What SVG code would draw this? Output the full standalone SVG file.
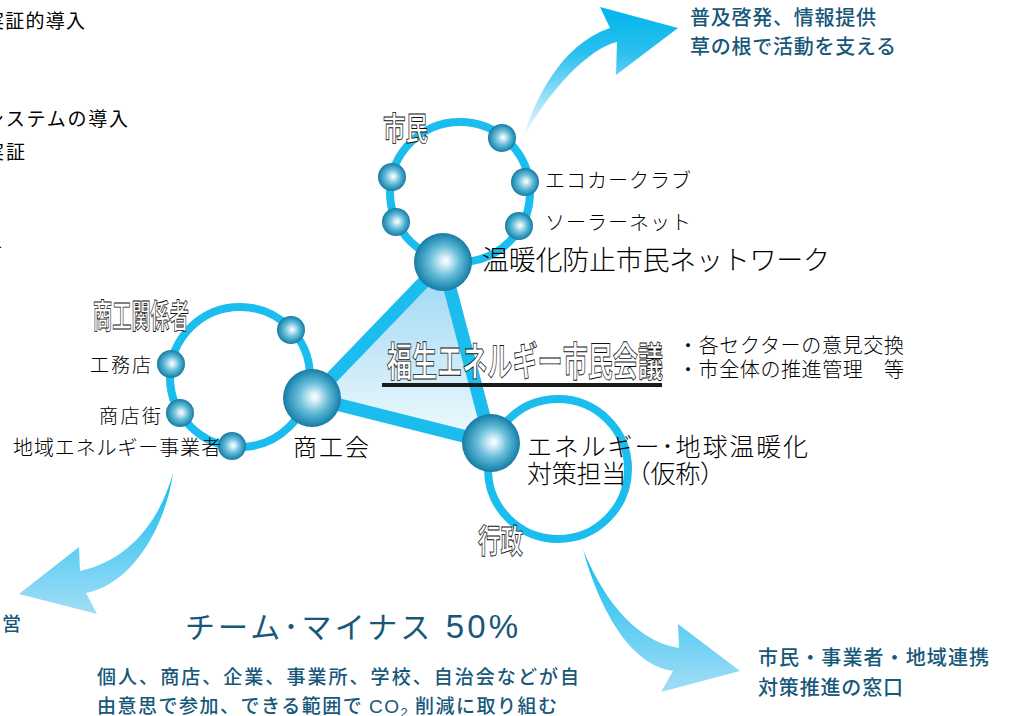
<svg xmlns="http://www.w3.org/2000/svg" width="1011" height="716" viewBox="0 0 1011 716">
<defs>
<radialGradient id="ball" cx="0.5" cy="0.5" r="0.5" fx="0.55" fy="0.48">
<stop offset="0" stop-color="#ffffff"/>
<stop offset="0.12" stop-color="#e2f3f9"/>
<stop offset="0.5" stop-color="#6cbfdb"/>
<stop offset="0.85" stop-color="#2a92b8"/>
<stop offset="1" stop-color="#1a7aa0"/>
</radialGradient>
<linearGradient id="triFill" gradientUnits="userSpaceOnUse" x1="0" y1="262" x2="0" y2="443">
<stop offset="0" stop-color="#98d6f3"/>
<stop offset="1" stop-color="#f2fafd"/>
</linearGradient>
<linearGradient id="arrUp" gradientUnits="userSpaceOnUse" x1="0" y1="7" x2="0" y2="140">
<stop offset="0" stop-color="#00b5ec"/>
<stop offset="0.35" stop-color="#2bc0ef"/>
<stop offset="1" stop-color="#ffffff"/>
</linearGradient>
<linearGradient id="arrL" gradientUnits="userSpaceOnUse" x1="0" y1="473" x2="0" y2="614">
<stop offset="0" stop-color="#0fbcef"/>
<stop offset="1" stop-color="#a3ddf6"/>
</linearGradient>
<linearGradient id="arrR" gradientUnits="userSpaceOnUse" x1="0" y1="550" x2="0" y2="692">
<stop offset="0" stop-color="#0fbcef"/>
<stop offset="1" stop-color="#a3ddf6"/>
</linearGradient>
<style>
.ring{fill:none;stroke:#1bbdee;stroke-width:8}
.edge{fill:none;stroke:#1bbdee;stroke-width:13;stroke-linejoin:round}
.ball{fill:url(#ball)}
.lbl{font-family:"Noto Sans CJK JP","Noto Sans CJK SC",sans-serif;font-weight:300;fill:#000000}
.side{font-family:"Noto Sans CJK JP","Noto Sans CJK SC",sans-serif;font-weight:400;fill:#000000}
.ol{font-family:"Noto Sans CJK JP","Noto Sans CJK SC",sans-serif;font-weight:700;fill:#ffffff;stroke:#111111;stroke-width:0.9}
.bl{font-family:"Noto Sans CJK JP","Noto Sans CJK SC",sans-serif;font-weight:500;fill:#17587a}
.title{font-family:"Noto Sans CJK JP","Noto Sans CJK SC",sans-serif;font-weight:400;fill:#17587a}
.narrow{font-family:"Liberation Sans Narrow","Liberation Sans",sans-serif}
</style>
</defs>
<rect width="1011" height="716" fill="#ffffff"/>

<g id="left-cut-text" class="side" font-size="19">
<text x="-15" y="28" textLength="100" lengthAdjust="spacing">実証的導入</text>
<text x="-15" y="126" textLength="143" lengthAdjust="spacing">システムの導入</text>
<text x="-15" y="159" textLength="40" lengthAdjust="spacing">実証</text>
<text x="-17" y="257">者</text>
</g>
<text class="bl" x="2" y="631" font-size="19">営</text>

<g id="connectors">
<polygon points="443,262 312,398 491,443" fill="url(#triFill)"/>
<polygon class="edge" points="443,262 312,398 491,443"/>
<path d="M522,140 C535,100 560,45 610,28 L600,7 L678,28 L616,75 L617,42 C590,48 550,88 522,140 Z" fill="url(#arrUp)"/>
<path d="M173,473 C160,520 130,560 80,571 L79,547 L19,594 L97,614 L86,593 C130,585 165,530 173,473 Z" fill="url(#arrL)"/>
<path d="M583,550 C600,590 630,640 679,648 L678,624 L740,671 L661,692 L673,671 C630,665 600,610 583,550 Z" fill="url(#arrR)"/>
</g>

<g id="citizens">
<circle class="ring" cx="460" cy="192" r="70"/>
<circle class="ball" cx="502" cy="138" r="14"/>
<circle class="ball" cx="392" cy="177" r="14"/>
<circle class="ball" cx="525" cy="182" r="14"/>
<circle class="ball" cx="396" cy="222" r="14"/>
<circle class="ball" cx="519" cy="226" r="14"/>
<circle class="ball" cx="443" cy="262" r="29"/>
<text class="ol" x="383" y="140" font-size="32" textLength="45" lengthAdjust="spacingAndGlyphs">市民</text>
<text class="lbl" x="545" y="188" font-size="20" textLength="146" lengthAdjust="spacing">エコカークラブ</text>
<text class="lbl" x="545" y="230" font-size="20" textLength="146" lengthAdjust="spacing">ソーラーネット</text>
<text class="lbl" x="482" y="270" font-size="27" textLength="348" lengthAdjust="spacing">温暖化防止市民ネットワーク</text>
</g>

<g id="commerce">
<circle class="ring" cx="240" cy="377" r="70"/>
<circle class="ball" cx="291" cy="330" r="14"/>
<circle class="ball" cx="171" cy="364" r="14"/>
<circle class="ball" cx="180" cy="413" r="14"/>
<circle class="ball" cx="232" cy="446" r="14"/>
<circle class="ball" cx="312" cy="398" r="29"/>
<text class="ol" x="93" y="328" font-size="33" textLength="96" lengthAdjust="spacingAndGlyphs">商工関係者</text>
<text class="lbl" x="90" y="372" font-size="19" textLength="61" lengthAdjust="spacing">工務店</text>
<text class="lbl" x="99" y="423" font-size="19" textLength="62" lengthAdjust="spacing">商店街</text>
<text class="lbl" x="13" y="455" font-size="20" textLength="208" lengthAdjust="spacing">地域エネルギー事業者</text>
<text class="lbl" x="293" y="456" font-size="24" textLength="76" lengthAdjust="spacing">商工会</text>
</g>

<g id="administration">
<circle class="ring" cx="558" cy="469" r="70"/>
<circle class="ball" cx="491" cy="443" r="29"/>
<text class="lbl" x="527" y="456" font-size="25" textLength="281" lengthAdjust="spacing">エネルギー･地球温暖化</text>
<text class="lbl" x="527" y="483" font-size="25" textLength="198" lengthAdjust="spacing">対策担当（仮称）</text>
<text class="ol" x="478" y="553" font-size="33" textLength="45" lengthAdjust="spacingAndGlyphs">行政</text>
</g>

<g id="council">
<text class="ol" x="387" y="376" font-size="40" textLength="276" lengthAdjust="spacingAndGlyphs">福生エネルギー市民会議</text>
<rect x="382" y="383" width="280" height="4" fill="#1a1a1a"/>
<text class="lbl" x="678" y="353" font-size="20" textLength="226" lengthAdjust="spacing">・各セクターの意見交換</text>
<text class="lbl" x="678" y="377" font-size="20" textLength="226" lengthAdjust="spacing">・市全体の推進管理　等</text>
</g>

<g id="note-top" class="bl" font-size="20">
<text x="690" y="25" textLength="186" lengthAdjust="spacing">普及啓発、情報提供</text>
<text x="690" y="54" textLength="206" lengthAdjust="spacing">草の根で活動を支える</text>
</g>

<g id="note-bottom-right" class="bl" font-size="20">
<text x="758" y="665" textLength="231" lengthAdjust="spacing">市民・事業者・地域連携</text>
<text x="758" y="695" textLength="145" lengthAdjust="spacing">対策推進の窓口</text>
</g>

<g id="team-minus">
<text class="title" x="185" y="638" font-size="30" textLength="333" lengthAdjust="spacing">チーム･マイナス<tspan class="narrow" font-size="33"> 50%</tspan></text>
<text class="bl" x="97" y="684" font-size="19" textLength="482" lengthAdjust="spacing">個人、商店、企業、事業所、学校、自治会などが自</text>
<text class="bl" x="97" y="713" font-size="19" textLength="460" lengthAdjust="spacing">由意思で参加、できる範囲で <tspan class="narrow">CO</tspan><tspan class="narrow" font-size="13" dy="4">2</tspan><tspan dy="-4"> 削減に取り組む</tspan></text>
</g>
</svg>
